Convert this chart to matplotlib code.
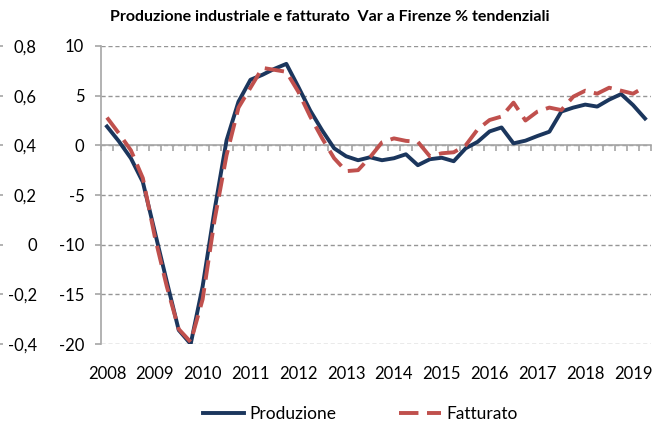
import matplotlib
matplotlib.use('Agg')
import matplotlib.pyplot as plt

# quarterly data, 2008 Q1 - 2019 Q2
years = [str(y) for y in range(2008, 2020)]
produzione = [1.9, 0.4, -1.3, -3.7, -8.7, -13.7, -18.6, -20.0, -14.2, -6.5,
              0.5, 4.4, 6.6, 7.1, 7.7, 8.2, 5.9, 3.5, 1.5, -0.3,
              -1.1, -1.5, -1.2, -1.5, -1.3, -0.9, -2.0, -1.4, -1.25, -1.6,
              -0.3, 0.35, 1.4, 1.8, 0.2, 0.47, 0.94, 1.37, 3.4, 3.8,
              4.1, 3.9, 4.6, 5.16, 4.05, 2.7]
fatturato = [2.8, 1.2, -0.5, -3.3, -9.2, -14.2, -18.5, -19.8, -15.5, -7.5,
             -1.0, 3.8, 5.8, 7.8, 7.6, 7.4, 5.4, 2.9, 0.7, -1.3,
             -2.6, -2.5, -1.2, 0.3, 0.7, 0.45, 0.35, -1.1, -0.8, -0.7,
             0.0, 1.6, 2.55, 2.9, 4.3, 2.5, 3.4, 3.8, 3.55, 4.9,
             5.5, 5.2, 5.8, 5.5, 5.2, 5.9]
sec_ticks = [-0.4, -0.2, 0.0, 0.2, 0.4, 0.6, 0.8]
sec_labels = ['-0,4', '-0,2', '0', '0,2', '0,4', '0,6', '0,8']

BLUE = '#1B365D'
RED = '#C0504D'
GRAY = '#A6A6A6'

plt.rcParams['font.family'] = ['Lato', 'DejaVu Sans']
plt.rcParams['font.size'] = 12
plt.rcParams['axes.unicode_minus'] = False

fig = plt.figure(figsize=(6.52, 4.26), dpi=100)
ax = fig.add_axes([101 / 652, 1 - 344 / 426, 550 / 652, 298 / 426])

n = len(produzione)
x = list(range(n))
ax.plot(x, produzione, color=BLUE, lw=2.8, label='Produzione', zorder=3)
ax.plot(x, fatturato, color=RED, lw=2.8, dashes=(5, 2.2), label='Fatturato', zorder=4)

ax.set_xlim(-0.5, n - 0.5)
ax.set_ylim(-20, 10)
ax.set_yticks([-20, -15, -10, -5, 0, 5, 10])
ax.yaxis.grid(True, color='#969696', lw=1, dashes=(3, 2))
ax.set_axisbelow(True)

for s in ['top', 'right']:
    ax.spines[s].set_visible(False)
ax.spines['left'].set_color(GRAY)
ax.spines['left'].set_linewidth(1.2)
ax.tick_params(axis='y', color=GRAY, length=4, width=1.2, pad=8, labelsize=12)

# zero line with quarter ticks
ax.spines['bottom'].set_position(('data', 0))
ax.spines['bottom'].set_color(GRAY)
ax.spines['bottom'].set_linewidth(1.2)
ax.set_xticks([k - 0.5 for k in range(n + 1)])
ax.tick_params(axis='x', direction='out', length=4, width=1.2, color=GRAY, labelbottom=False)

# year labels below the plot
yr = ax.secondary_xaxis('bottom')
yr.spines['bottom'].set_visible(False)
yr.set_xticks(list(range(0, n, 4)))
yr.set_xticklabels(years)
yr.tick_params(axis='x', length=0, pad=16, labelsize=12)

# secondary axis on the far left
ax2 = ax.twinx()
ax2.set_ylim(-0.4, 0.8)
ax2.set_yticks(sec_ticks)
ax2.set_yticklabels(sec_labels)
for s in ['top', 'right', 'bottom', 'left']:
    ax2.spines[s].set_visible(False)
ax2.spines['right'].set_position(('axes', -101 / 550))
ax2.tick_params(axis='y', color=GRAY, length=2.5, width=1.2, pad=24, labelsize=12)
for t in ax2.yaxis.get_major_ticks():
    t.label2.set_horizontalalignment('right')

fig.text(330 / 652, 1 - 17 / 426, 'Produzione industriale e fatturato  Var a Firenze % tendenziali',
         ha='center', va='center', fontsize=11.5, fontweight='bold')

fig.legend(loc='center', bbox_to_anchor=(360 / 652, 1 - 414 / 426), ncol=2, frameon=False,
           fontsize=12.5, handlelength=2.4, columnspacing=3.6, handletextpad=0.3)

fig.savefig('out.png', dpi=100)
